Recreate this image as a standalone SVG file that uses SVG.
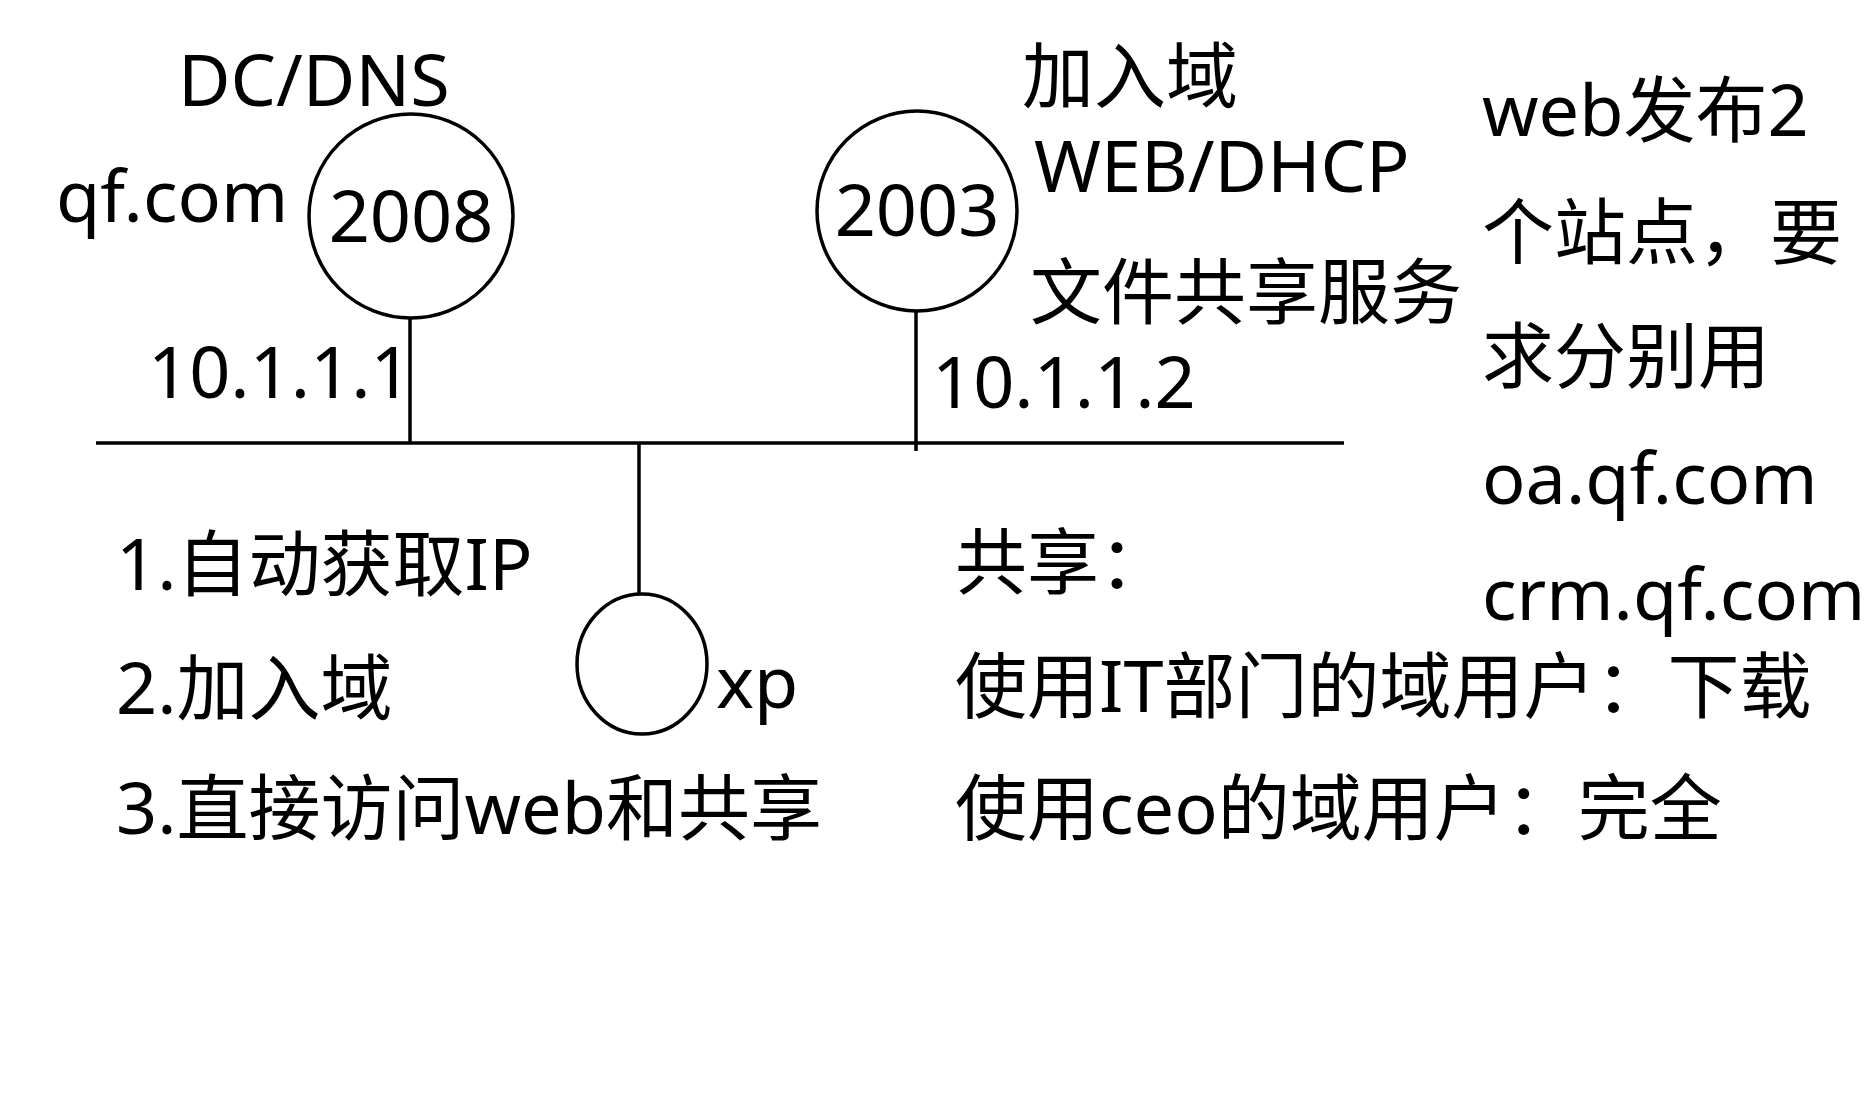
<svg xmlns="http://www.w3.org/2000/svg" width="1872" height="1093" viewBox="0 0 1872 1093">
<style>
text{font-family:"Noto Sans","Noto Sans CJK SC",sans-serif;font-size:72px;fill:#000}
.n{fill:none;stroke:#000;stroke-width:3.5}
.l{stroke:#000;stroke-width:3.5}
</style>
<rect width="1872" height="1093" fill="#fff"/>
<g id="connectors">
<line class="l" x1="96" y1="443" x2="1344" y2="443" stroke-width="4"/>
<line class="l" x1="410" y1="318" x2="410" y2="443"/>
<line class="l" x1="916" y1="311" x2="916" y2="451"/>
<line class="l" x1="639" y1="443" x2="639" y2="594"/>
</g>
<g id="n2008"><circle class="n" cx="411" cy="216" r="102"/><text x="411" y="242" text-anchor="middle">2008</text></g>
<g id="n2003"><circle class="n" cx="917" cy="211" r="100"/><text x="917" y="236" text-anchor="middle">2003</text></g>
<g id="nxp"><ellipse class="n" cx="642" cy="664" rx="65" ry="70"/><text x="716" y="708">xp</text></g>
<g id="labels">
<text x="178" y="106">DC/DNS</text>
<text x="56" y="222">qf.com</text>
<text x="148" y="398">10.1.1.1</text>
<text x="932" y="408">10.1.1.2</text>
<text x="1022" y="102">加入域</text>
<text x="1034" y="192">WEB/DHCP</text>
<text x="1030" y="318">文件共享服务</text>
<text x="1482" y="136">web发布2</text>
<text x="1482" y="258">个站点，要</text>
<text x="1482" y="382">求分别用</text>
<text x="1482" y="504">oa.qf.com</text>
<text x="1482" y="620">crm.qf.com</text>
<text x="116" y="590">1.自动获取IP</text>
<text x="116" y="714">2.加入域</text>
<text x="116" y="834">3.直接访问web和共享</text>
<text x="955" y="588">共享：</text>
<text x="955" y="712">使用IT部门的域用户：下载</text>
<text x="955" y="834">使用ceo的域用户：完全</text>
</g>
</svg>
